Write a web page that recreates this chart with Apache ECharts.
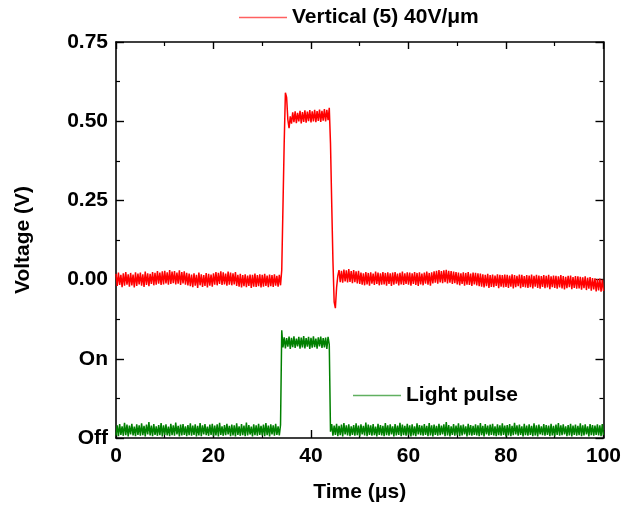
<!DOCTYPE html>
<html>
<head>
<meta charset="utf-8">
<script src="https://cdn.jsdelivr.net/npm/echarts@6/dist/echarts.min.js"></script>
<style>html,body{margin:0;padding:0;background:#fff}#chart{width:624px;height:508px}</style>
</head>
<body>
<div id="chart"></div>
<script>
// ---- data ----
const seriesNames = ['Vertical (5) 40V/μm', 'Light pulse'];
const xTickLabels = ['0', '20', '40', '60', '80', '100'];
const yTickValues = [-0.5, -0.25, 0, 0.25, 0.5, 0.75];
const yTickLabels = ['Off', 'On', '0.00', '0.25', '0.50', '0.75'];
const sampleStep = 0.25; // μs between samples

// red trace, millivolts; segments start at the given times (μs)
const redBeforeStart = 0;
const redBefore = [
 18,-20,22,-17,15,-24,20,-19,24,-16,17,-22,21,-18,16,-25,23,-20,19,-15,
 22,-19,17,-23,25,-17,20,-21,18,-14,24,-18,21,-16,27,-13,22,-17,26,-15,
 28,-12,23,-16,30,-14,25,-11,27,-15,22,-13,29,-17,24,-12,26,-16,21,-18,
 19,-21,16,-24,20,-19,15,-26,22,-18,17,-23,14,-20,21,-25,18,-19,16,-22,
 20,-16,24,-18,21,-14,26,-17,23,-15,19,-19,25,-16,22,-18,20,-15,24,-20,
 15,-22,18,-25,14,-21,17,-24,13,-20,16,-26,15,-22,19,-23,14,-21,17,-25,
 15,-22,18,-20,13,-24,16,-21,14,-23,17,-19,12,-22,15,-18
];
const redPulseStart = 34.0;
const redPulse = [
 30,230,430,590,575,505,478,515,492,528,497,531,494,526,499,533,493,529,498,534,
 495,530,500,535,496,531,499,536,497,532,501,537,498,533,502,538,499,536,503,542,
 430,240,60,-70,-90,-25,12
];
const redAfterStart = 45.75;
const redAfter = [
 30,-8,28,-10,32,-6,29,-9,33,-7,27,-11,30,-8,26,-12,28,
 -14,22,-16,20,-18,24,-15,21,-19,23,-13,19,-17,25,-14,22,-18,20,-16,24,
 -15,21,-19,23,-14,20,-20,22,-16,24,-13,19,-18,21,-15,25,-17,20,-14,23,
 -16,22,-19,20,-14,24,-17,21,-20,23,-15,19,-18,22,-13,25,-16,21,-19,23,
 -12,26,-10,28,-13,30,-9,27,-11,29,-8,31,-12,28,-10,27,-14,25,-11,24,
 -15,22,-18,20,-14,23,-19,21,-16,24,-17,19,-20,22,-15,21,-18,20,-21,19,
 -22,17,-25,15,-21,18,-26,14,-23,16,-24,13,-20,17,-27,15,-22,14,-25,16,
 -23,15,-26,13,-22,17,-28,14,-24,12,-21,16,-27,15,-23,11,-25,14,-26,13,
 -24,16,-28,12,-22,15,-26,13,-29,11,-23,14,-27,12,-25,15,-30,10,-24,13,
 -26,12,-29,10,-25,14,-28,11,-31,9,-27,12,-24,13,-30,8,-26,11,-29,10,
 -28,9,-32,7,-27,10,-33,6,-29,8,-35,5,-31,4,-37,2,-34,3,-38,0,-36
];

// green trace, in thousandths of the shared axis (Off = -500, On = -250)
const greenOffStart = 0;
const greenOff = [
 -492,-460,-494,-456,-490,-463,-493,-452,-491,-458,-495,-461,-489,-455,-492,-464,-494,-457,-490,-460,
 -493,-454,-491,-462,-495,-458,-489,-450,-492,-461,-494,-456,-490,-463,-493,-459,-491,-453,-495,-460,
 -490,-457,-492,-464,-494,-455,-491,-460,-493,-451,-489,-462,-495,-458,-492,-456,-490,-463,-494,-459,
 -491,-454,-493,-461,-490,-457,-495,-462,-492,-453,-494,-460,-489,-456,-491,-464,-493,-458,-490,-455,
 -494,-461,-492,-457,-495,-452,-490,-463,-493,-459,-491,-455,-489,-462,-494,-458,-492,-460,-495,-454,
 -490,-463,-493,-456,-491,-461,-494,-451,-492,-459,-489,-464,-495,-457,-491,-460,-493,-455,-490,-462,
 -492,-458,-494,-453,-491,-461,-495,-457,-489,-460,-493,-455,-490,-463,-492,-459
];
const greenOnStart = 34.0;
const greenOn = [
 -160,-214,-182,-217,-185,-212,-180,-219,-184,-213,-179,-216,-186,-211,-181,-218,-183,-214,-178,-217,
 -185,-212,-181,-219,-184,-215,-179,-213,-186,-218,-182,-211,-180,-216,-185,-214,-183,-219,-181,-205
];
const greenOff2Start = 44.0;
const greenOff2 = [
 -480,-456,-493,-461,-490,-455,-494,-462,-491,-458,-495,-453,-489,-460,-492,-457,-494,-463,-490,-459,
 -493,-454,-491,-461,-495,-457,-489,-462,-492,-451,-494,-458,-490,-460,-493,-456,-491,-464,-495,-455,
 -490,-459,-492,-462,-494,-453,-491,-460,-493,-457,-489,-463,-495,-456,-492,-461,-490,-452,-494,-458,
 -491,-462,-493,-455,-490,-460,-495,-457,-492,-463,-494,-454,-489,-459,-491,-461,-493,-456,-490,-462,
 -494,-453,-492,-460,-495,-458,-490,-462,-493,-455,-491,-461,-489,-457,-494,-450,-492,-459,-495,-463,
 -490,-456,-493,-461,-491,-454,-494,-460,-492,-458,-489,-463,-495,-455,-491,-459,-493,-462,-490,-457,
 -492,-460,-494,-453,-491,-462,-495,-456,-489,-461,-493,-458,-490,-455,-492,-463,-494,-457,-491,-460,
 -493,-454,-490,-461,-495,-459,-492,-456,-494,-462,-491,-452,-489,-460,-493,-458,-490,-463,-495,-455,
 -491,-461,-493,-457,-490,-462,-494,-454,-492,-460,-495,-458,-489,-463,-491,-456,-493,-459,-490,-461,
 -494,-455,-492,-462,-495,-458,-490,-453,-493,-460,-491,-457,-489,-463,-494,-459,-492,-455,-495,-461,
 -490,-458,-493,-462,-491,-454,-494,-460,-492,-457,-489,-463,-495,-456,-491,-459,-493,-461,-490,-457,
 -492,-460,-494,-456,-491
];

// ---- build ----
function seg(start, vals, scale) {
  return vals.map((v, i) => [start + i * sampleStep, v / scale]);
}
const redData = [].concat(
  seg(redBeforeStart, redBefore, 1000),
  seg(redPulseStart, redPulse, 1000),
  seg(redAfterStart, redAfter, 1000)
).filter(p => p[0] <= 100);
const greenData = [].concat(
  seg(greenOffStart, greenOff, 1000),
  seg(greenOnStart, greenOn, 1000),
  seg(greenOff2Start, greenOff2, 1000)
).filter(p => p[0] <= 100);

const FONT = '"Liberation Sans", Arial, sans-serif';
const txt = { fontFamily: FONT, fontWeight: 'bold', fontSize: 21, color: '#000' };

function yLabel(v) {
  for (let k = 0; k < yTickValues.length; k++) {
    if (Math.abs(yTickValues[k] - v) < 1e-9) return yTickLabels[k];
  }
  return '';
}
function xLabel(v) {
  const k = Math.round(v / 20);
  return Math.abs(k * 20 - v) < 1e-9 ? (xTickLabels[k] || '') : '';
}

const axisLine = { show: true, onZero: false, lineStyle: { color: '#000', width: 1.6 } };
const axisTick = { show: true, inside: true, length: 8, lineStyle: { color: '#000', width: 1.4 } };
const minorTick = { show: true, splitNumber: 2, length: 4, lineStyle: { color: '#000', width: 1.2 } };

function legendFor(name, color, left, top) {
  return {
    data: [{ name: name, icon: 'rect', itemStyle: { color: color, borderWidth: 0, opacity: 1 } }],
    left: left, top: top, padding: 0,
    itemWidth: 48, itemHeight: 1.5, itemGap: 6,
    itemStyle: { color: color, borderWidth: 0, opacity: 1 },
    lineStyle: { width: 0, opacity: 0 },
    inactiveColor: color,
    textStyle: txt, selectedMode: false
  };
}

const chart = echarts.init(document.getElementById('chart'), null, { renderer: 'canvas' });
chart.setOption({
  animation: false,
  backgroundColor: '#fff',
  grid: { left: 116, right: 19, top: 42, bottom: 69, containLabel: false },
  legend: [
    legendFor(seriesNames[0], '#ff6060', 239, 7),
    legendFor(seriesNames[1], '#60b060', 353, 385)
  ],
  xAxis: [
    { type: 'value', position: 'bottom', min: 0, max: 100, interval: 20,
      name: 'Time (μs)', nameLocation: 'middle', nameGap: 44, nameTextStyle: txt,
      axisLine, axisTick, minorTick, splitLine: { show: false },
      axisLabel: { ...txt, margin: 8, formatter: xLabel } },
    { type: 'value', position: 'top', min: 0, max: 100, interval: 20,
      axisLine, axisTick: { ...axisTick, length: 7 }, minorTick, splitLine: { show: false },
      axisLabel: { show: false } }
  ],
  yAxis: [
    { type: 'value', position: 'left', min: -0.5, max: 0.75, interval: 0.25,
      name: 'Voltage (V)', nameLocation: 'middle', nameGap: 82, nameTextStyle: txt,
      axisLine, axisTick, minorTick, splitLine: { show: false },
      axisLabel: { ...txt, margin: 8, formatter: yLabel } },
    { type: 'value', position: 'right', min: -0.5, max: 0.75, interval: 0.25,
      axisLine, axisTick, minorTick, splitLine: { show: false },
      axisLabel: { show: false } }
  ],
  series: [
    { name: seriesNames[0], type: 'line', data: redData, xAxisIndex: 0, yAxisIndex: 0,
      symbol: 'none', showSymbol: false,
      lineStyle: { color: '#ff0000', width: 1.5 }, itemStyle: { color: '#ff0000' } },
    { name: seriesNames[1], type: 'line', data: greenData, xAxisIndex: 0, yAxisIndex: 0,
      symbol: 'none', showSymbol: false,
      lineStyle: { color: '#008000', width: 1.5 }, itemStyle: { color: '#008000' } }
  ]
});
</script>
</body>
</html>
